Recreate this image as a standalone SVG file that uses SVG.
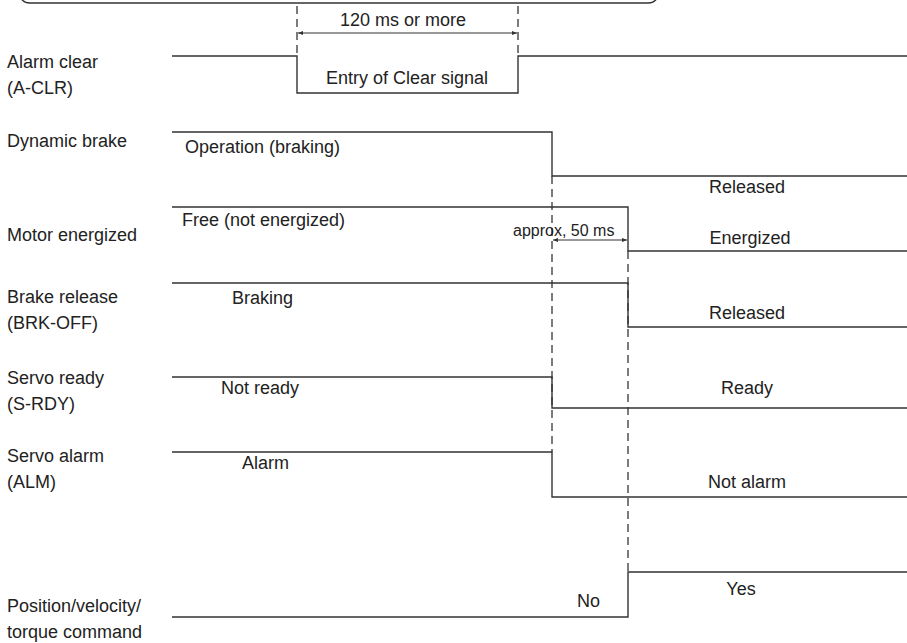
<svg xmlns="http://www.w3.org/2000/svg" width="907" height="643" viewBox="0 0 907 643">
<defs>
<style>
text{font-family:"Liberation Sans",Arial,sans-serif;font-size:18px;fill:#222}
.sm{font-size:16px}
.mid{text-anchor:middle}
.sig{fill:none;stroke:#333;stroke-width:1.4}
.dash{fill:none;stroke:#444;stroke-width:1.4;stroke-dasharray:8 5}
.arr{fill:none;stroke:#333;stroke-width:1;marker-start:url(#ah);marker-end:url(#ah)}
</style>
<marker id="ah" viewBox="0 0 10 10" refX="10" refY="5" markerWidth="7" markerHeight="5" orient="auto-start-reverse" markerUnits="userSpaceOnUse">
<path d="M0,1 L10,5 L0,9 Z" fill="#333"/>
</marker>
</defs>
<rect width="907" height="643" fill="#fff"/>
<path class="sig" d="M20,-8 Q20,3 30,3 L648,3 Q658,3 658,-8"/>
<g id="connectors">
<line class="dash" x1="297" y1="6" x2="297" y2="56"/>
<line class="dash" x1="518" y1="6" x2="518" y2="56"/>
<line class="arr" x1="298" y1="33" x2="517" y2="33"/>
<line class="dash" x1="552" y1="176" x2="552" y2="452"/>
<line class="dash" x1="628" y1="251" x2="628" y2="572"/>
<line class="arr" x1="553" y1="240" x2="627" y2="240"/>
<text class="sm" x="513" y="236">approx, 50 ms</text>
<text class="mid" x="403" y="26">120 ms or more</text>
</g>
<g id="alarm-clear">
<text x="7" y="68">Alarm clear</text>
<text x="7" y="94">(A-CLR)</text>
<path class="sig" d="M172,56 H297 V93 H518 V56 H907"/>
<text class="mid" x="407" y="84">Entry of Clear signal</text>
</g>
<g id="dynamic-brake">
<text x="7" y="147">Dynamic brake</text>
<path class="sig" d="M172,132 H552 V176 H907"/>
<text x="185" y="153">Operation (braking)</text>
<text class="mid" x="747" y="193">Released</text>
</g>
<g id="motor-energized">
<text x="7" y="241">Motor energized</text>
<path class="sig" d="M172,207 H628 V251 H907"/>
<text x="182" y="226">Free (not energized)</text>
<text class="mid" x="750" y="244">Energized</text>
</g>
<g id="brake-release">
<text x="7" y="303">Brake release</text>
<text x="7" y="329">(BRK-OFF)</text>
<path class="sig" d="M172,283 H628 V327 H907"/>
<text x="232" y="304">Braking</text>
<text class="mid" x="747" y="319">Released</text>
</g>
<g id="servo-ready">
<text x="7" y="384">Servo ready</text>
<text x="7" y="410">(S-RDY)</text>
<path class="sig" d="M172,377 H552 V408 H907"/>
<text x="221" y="394">Not ready</text>
<text class="mid" x="747" y="394">Ready</text>
</g>
<g id="servo-alarm">
<text x="7" y="462">Servo alarm</text>
<text x="7" y="488">(ALM)</text>
<path class="sig" d="M172,452 H552 V497 H907"/>
<text x="242" y="469">Alarm</text>
<text class="mid" x="747" y="488">Not alarm</text>
</g>
<g id="command">
<text x="7" y="612">Position/velocity/</text>
<text x="7" y="638">torque command</text>
<path class="sig" d="M172,617 H628 V572 H907"/>
<text x="577" y="607">No</text>
<text class="mid" x="741" y="595">Yes</text>
</g>
</svg>
